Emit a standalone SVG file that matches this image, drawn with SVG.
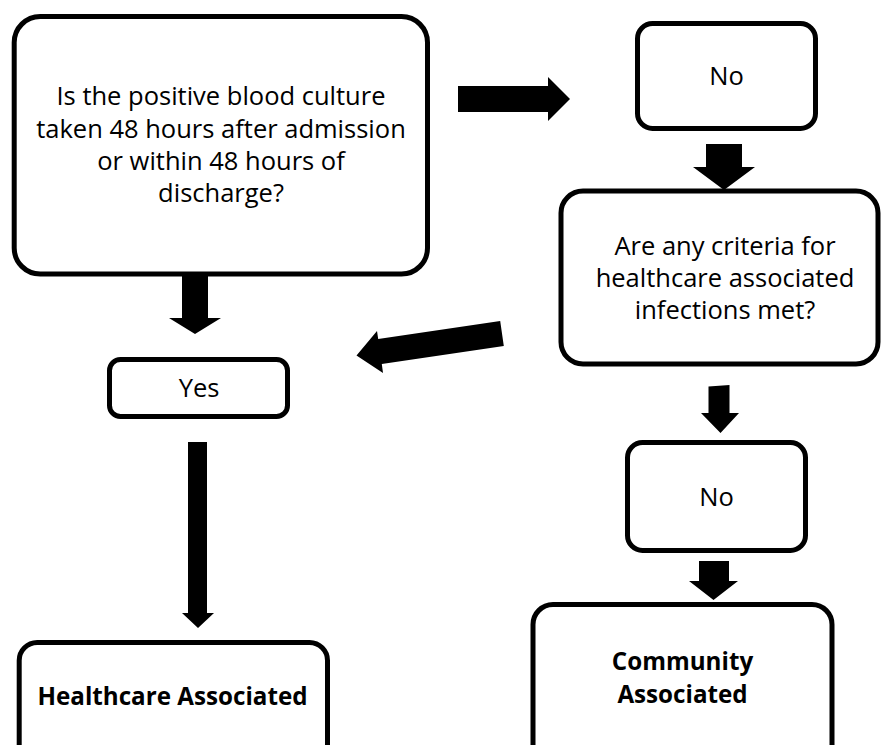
<svg xmlns="http://www.w3.org/2000/svg" width="882" height="745" viewBox="0 0 882 745">
  <style>
    .box { fill: #ffffff; stroke: #000000; stroke-width: 5; }
    .txt { font-family: "Open Sans", "Noto Sans", "Liberation Sans", sans-serif; font-size: 25.5px; fill: #000000; text-anchor: middle; }
    .bold { font-family: "Open Sans", "Noto Sans", "Liberation Sans", sans-serif; font-size: 24.2px; font-weight: bold; fill: #000000; text-anchor: middle; }
    .arrow { fill: #000000; stroke: none; }
  </style>
  <rect width="882" height="745" fill="#ffffff"/>

  <!-- block arrows -->
  <g id="connectors">
    <polygon class="arrow" points="458,86 548,86 548,77 570,99 548,121 548,112 458,112"/>
    <polygon class="arrow" points="706,144 742,144 742,167 755,167 724,190 693,167 706,167"/>
    <polygon class="arrow" points="500.2,321.1 503.8,345.9 381.8,363.9 383,373 356.5,355.5 377,331 378.2,339.1"/>
    <polygon class="arrow" points="182,274 208,274 208,318 221,318 195,334 169,318 182,318"/>
    <polygon class="arrow" points="188,442 207,442 207,613 214,613 198,628 182,613 188,613"/>
    <polygon class="arrow" points="708.5,386.5 729.5,385 729.5,413 739,413 720.5,433 701,413 708.5,413"/>
    <polygon class="arrow" points="699,561 729,561 729,581 738,581 713.5,600 689,581 699,581"/>
  </g>

  <g id="q-timing">
    <rect class="box" x="14.2" y="16.5" width="413.3" height="257.5" rx="26" ry="26"/>
    <text class="txt" x="221" y="105">Is the positive blood culture</text>
    <text class="txt" x="221" y="137.5">taken 48 hours after admission</text>
    <text class="txt" x="221" y="169.5">or within 48 hours of</text>
    <text class="txt" x="221" y="201.5">discharge?</text>
  </g>

  <g id="no-timing">
    <rect class="box" x="637.5" y="23.5" width="178" height="105" rx="15" ry="15"/>
    <text class="txt" x="726.5" y="85">No</text>
  </g>

  <g id="q-criteria">
    <rect class="box" x="561" y="191" width="317" height="173" rx="22" ry="22"/>
    <text class="txt" x="725" y="254.5">Are any criteria for</text>
    <text class="txt" x="725" y="286.5">healthcare associated</text>
    <text class="txt" x="725" y="318.5">infections met?</text>
  </g>

  <g id="yes">
    <rect class="box" x="109.5" y="359.5" width="178" height="57" rx="11" ry="11"/>
    <text class="txt" x="199" y="397.3">Yes</text>
  </g>

  <g id="no-criteria">
    <rect class="box" x="627.5" y="442.5" width="178" height="108" rx="15" ry="15"/>
    <text class="txt" x="716.5" y="506">No</text>
  </g>

  <g id="healthcare-associated">
    <rect class="box" x="19.2" y="642.5" width="308.3" height="130" rx="18" ry="18"/>
    <text class="bold" x="172.5" y="705">Healthcare Associated</text>
  </g>

  <g id="community-associated">
    <rect class="box" x="533" y="604.5" width="299" height="170" rx="20" ry="20"/>
    <text class="bold" x="682.5" y="670">Community</text>
    <text class="bold" x="682.5" y="703">Associated</text>
  </g>
</svg>
